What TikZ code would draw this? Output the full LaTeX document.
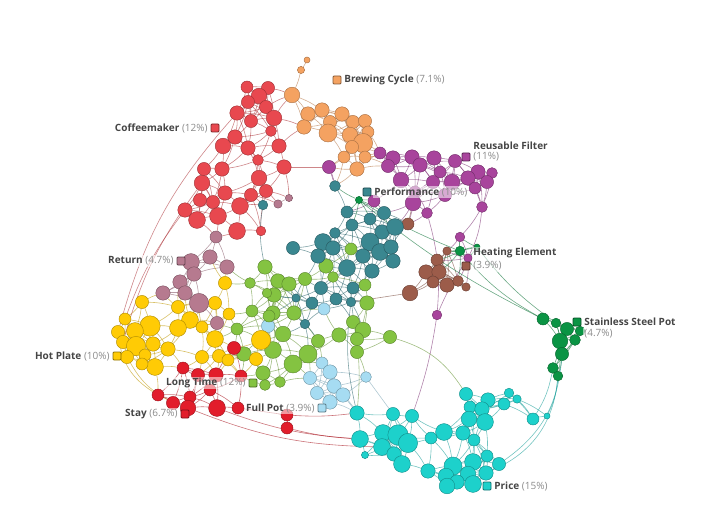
\documentclass[tikz,border=0pt]{standalone}
\usepackage{fontspec}
\setmainfont{Open Sans}
\usetikzlibrary{positioning}

\definecolor{cmC}{HTML}{E8484F}
\definecolor{bcC}{HTML}{F4A261}
\definecolor{rfC}{HTML}{A8449C}
\definecolor{pfC}{HTML}{3A8790}
\definecolor{heC}{HTML}{9C5C4A}
\definecolor{ssC}{HTML}{0A9444}
\definecolor{prC}{HTML}{1DD1CB}
\definecolor{fpC}{HTML}{A6DCF2}
\definecolor{ltC}{HTML}{84C341}
\definecolor{stC}{HTML}{E21D2B}
\definecolor{hpC}{HTML}{FFCB05}
\definecolor{rtC}{HTML}{B67A8F}
\definecolor{namegray}{HTML}{454545}
\definecolor{pctgray}{HTML}{8C8C8C}

\pgfdeclarelayer{background}
\pgfsetlayers{background,main}

\tikzset{
  dot/.style={circle, inner sep=0pt, line width=0.35pt, fill=#1, draw=#1!70!black},
  link/.style={draw=#1!75!black, line width=0.45pt, draw opacity=0.6},
  tagbox/.style={rectangle, rounded corners=0.8pt, inner sep=0pt, minimum size=6pt,
    fill=#1, draw=#1!55!black, line width=0.7pt},
  lbl/.style={inner sep=1pt, font=\fontsize{7.5}{9}\selectfont, text=namegray,
    fill=white, fill opacity=0.55, text opacity=1},
}
\newcommand\nm[1]{\textbf{#1}}
\newcommand\pct[1]{\textcolor{pctgray}{(#1\%)}}

% x/y/diameter, in pixels of the plot
\newcommand\listCM{247/87/10, 268/88/11, 259/96/13, 248/102/11, 266/107/11, 237/113/12,
  251/121/11, 274/118/13, 271/131/9, 235/137/12, 223/146/13, 248/148/12, 279/146/12,
  258/160/9, 284/167/12, 204/169/11, 222/169/12, 259/178/13, 202/183/13, 225/193/12,
  266/191/11, 200/200/11, 213/202/11, 251/195/11, 240/206/14, 185/210/12, 197/220/14,
  218/216/14, 237/231/14, 261/231/8}
\newcommand\listBC{307/60/5, 301/70/6, 292/95/13, 308/114/12, 322/110/12, 342/114/12,
  330/122/11, 353/122/11, 365/121/11, 304/127/12, 328/133/15, 350/135/13, 368/132/10,
  363/143/16, 352/147/11, 344/157/10, 365/157/10, 357/169/12}
\newcommand\listRF{329/167/11, 380/153/10, 393/158/12, 412/157/12, 420/165/12, 434/158/12,
  455/161/11, 388/166/11, 440/172/10, 478/172/12, 492/173/9, 468/178/12, 401/180/13,
  433/182/11, 452/182/13, 487/182/11, 475/188/10, 415/192/10, 445/195/11, 374/201/10,
  413/203/13, 427/213/9, 482/207/9, 460/237/8, 468/258/7, 437/315/8}
\newcommand\listPF{335/186/9, 263/205/8, 347/212/10, 370/219/10, 384/213/11, 352/225/10,
  335/233/9, 382/232/12, 395/227/14, 323/242/14, 333/248/12, 370/242/15, 293/248/11,
  318/256/12, 363/256/12, 380/252/14, 391/247/12, 393/261/12, 347/268/14, 372/271/12,
  321/288/11, 336/299/10, 351/302/8, 312/303/10, 296/298/7, 305/324/8, 353/288/10}
\newcommand\listHE{408/224/10, 447/251/7, 437/260/10, 426/272/12, 439/272/12, 433/282/10,
  447/285/12, 458/281/9, 466/287/7, 410/293/13}
\newcommand\listSS{359/200/6, 460/251/8, 477/247/5, 543/319/10, 556/323/8, 567/329/11,
  580/331/8, 560/341/13, 575/340/9, 562/354/11, 553/368/9, 558/376/8}
\newcommand\listPR{466/394/11, 488/400/12, 509/393/8, 517/399/7, 504/404/10, 470/407/10,
  482/409/12, 469/419/13, 485/422/14, 444/432/14, 463/433/12, 474/440/10, 431/438/10,
  412/416/11, 393/414/11, 357/413/12, 360/439/14, 383/433/14, 398/435/17, 408/443/16,
  382/447/14, 394/454/12, 365/455/6, 402/464/14, 428/471/12, 453/466/15, 473/462/14,
  487/456/10, 499/464/11, 486/473/12, 468/474/13, 446/476/13, 457/482/12, 473/484/14,
  447/486/13, 533/419/10, 547/416/5}
\newcommand\listFP{324/309/10, 268/326/11, 322/363/10, 330/372/12, 310/378/11, 366/377/9,
  334/386/12, 317/393/11, 343/395/12, 330/402/12}
\newcommand\listLT{351/249/10, 326/266/12, 333/277/9, 265/267/12, 250/283/9, 278/281/12,
  289/284/12, 305/279/11, 365/285/10, 274/295/12, 367/303/12, 252/311/10, 273/313/12,
  294/313/12, 353/322/11, 363/330/13, 390/337/11, 237/329/10, 283/334/13, 318/341/11,
  339/335/12, 357/339/11, 244/354/12, 273/350/14, 308/354/15, 357/352/11, 293/364/15,
  263/373/12, 280/382/9, 267/293/8, 269/316/10, 265/385/9}
\newcommand\listHP{225/283/11, 142/302/11, 178/307/11, 190/320/14, 215/303/11, 229/314/10,
  125/319/10, 150/326/17, 135/331/14, 118/332/11, 178/328/14, 202/327/10, 215/339/14,
  123/342/11, 136/346/16, 153/344/12, 168/349/12, 127/357/11, 145/355/10, 155/367/14,
  142/364/10, 202/357/11, 219/356/11, 228/360/10, 256/359/11, 261/340/16}
\newcommand\listST{183/368/10, 198/375/11, 216/375/12, 234/348/11, 241/376/10, 210/390/10,
  158/395/10, 173/403/11, 190/397/10, 188/408/13, 217/408/14, 238/408/10, 287/415/10,
  287/428/10}
\newcommand\listRT{216/237/10, 210/257/12, 191/262/14, 194/274/12, 227/267/12, 180/282/12,
  163/293/12, 185/293/12, 199/303/16, 217/323/11, 278/204/7, 289/198/6}

\newcommand\putcluster[3]{%
  \foreach \x/\y/\d [count=\i] in #3
    \node[dot=#2, minimum size=\d*0.9pt] (#1\i) at (\x,\y) {};}
\newcommand\meshcluster[3]{%
  \foreach \xa/\ya/\da [count=\i] in #2 {
    \foreach \xb/\yb/\db [count=\j] in #2 {
      \ifnum\j>\i
        \ifnum\numexpr(\xb-\xa)*(\xb-\xa)+(\yb-\ya)*(\yb-\ya)\relax<1400
          \draw[link=#3] (#1\i) to[bend left=6] (#1\j);
        \fi
      \fi}}}
\newcommand\meshpair[5]{%
  \foreach \xa/\ya/\da [count=\i] in #2 {
    \foreach \xb/\yb/\db [count=\j] in #4 {
      \ifnum\numexpr(\xb-\xa)*(\xb-\xa)+(\yb-\ya)*(\yb-\ya)\relax<1000
        \draw[link=#5] (#1\i) to[bend left=6] (#3\j);
      \fi}}}

\begin{document}
\begin{tikzpicture}[x=0.75pt, y=-0.75pt]
\useasboundingbox (0,0) rectangle (706,527);

% clusters
\putcluster{pr}{prC}{\listPR}
\putcluster{ss}{ssC}{\listSS}
\putcluster{fp}{fpC}{\listFP}
\putcluster{lt}{ltC}{\listLT}
\putcluster{st}{stC}{\listST}
\putcluster{hp}{hpC}{\listHP}
\putcluster{rt}{rtC}{\listRT}
\putcluster{he}{heC}{\listHE}
\putcluster{pf}{pfC}{\listPF}
\putcluster{rf}{rfC}{\listRF}
\putcluster{bc}{bcC}{\listBC}
\putcluster{cm}{cmC}{\listCM}

\begin{pgfonlayer}{background}
% links inside clusters
\meshcluster{cm}{\listCM}{cmC}
\meshcluster{bc}{\listBC}{bcC}
\meshcluster{rf}{\listRF}{rfC}
\meshcluster{pf}{\listPF}{pfC}
\meshcluster{he}{\listHE}{heC}
\meshcluster{ss}{\listSS}{ssC}
\meshcluster{pr}{\listPR}{prC}
\meshcluster{fp}{\listFP}{fpC}
\meshcluster{lt}{\listLT}{ltC}
\meshcluster{hp}{\listHP}{hpC}
\meshcluster{st}{\listST}{stC}
\meshcluster{rt}{\listRT}{rtC}
% links between neighbouring clusters
\meshpair{cm}{\listCM}{bc}{\listBC}{cmC}
\meshpair{cm}{\listCM}{rt}{\listRT}{cmC}
\meshpair{cm}{\listCM}{pf}{\listPF}{cmC}
\meshpair{bc}{\listBC}{rf}{\listRF}{bcC}
\meshpair{bc}{\listBC}{pf}{\listPF}{bcC}
\meshpair{rf}{\listRF}{pf}{\listPF}{rfC}
\meshpair{rf}{\listRF}{he}{\listHE}{rfC}
\meshpair{pf}{\listPF}{he}{\listHE}{pfC}
\meshpair{pf}{\listPF}{lt}{\listLT}{pfC}
\meshpair{pf}{\listPF}{fp}{\listFP}{pfC}
\meshpair{lt}{\listLT}{hp}{\listHP}{ltC}
\meshpair{lt}{\listLT}{fp}{\listFP}{ltC}
\meshpair{lt}{\listLT}{st}{\listST}{ltC}
\meshpair{lt}{\listLT}{rt}{\listRT}{ltC}
\meshpair{lt}{\listLT}{he}{\listHE}{ltC}
\meshpair{hp}{\listHP}{st}{\listST}{hpC}
\meshpair{hp}{\listHP}{rt}{\listRT}{hpC}
\meshpair{fp}{\listFP}{st}{\listST}{fpC}
\meshpair{fp}{\listFP}{pr}{\listPR}{fpC}
\meshpair{ss}{\listSS}{rf}{\listRF}{ssC}
\meshpair{ss}{\listSS}{pf}{\listPF}{ssC}
\meshpair{ss}{\listSS}{he}{\listHE}{ssC}
% long links
\draw[link=ssC] (ss1) to[bend right=5] (ss2);
\draw[link=ssC] (ss1) to[bend right=6] (ss4);
\draw[link=ssC] (ss2) to[bend right=10] (ss4);
\draw[link=ssC] (ss3) to[bend right=8] (ss5);
\draw[link=prC] (pr36) to[bend right=10] (ss11);
\draw[link=prC] (pr29) to[bend right=25] (ss10);
\draw[link=prC] (pr30) to[bend right=30] (ss12);
\draw[link=prC] (pr37) to[bend right=10] (ss12);
\draw[link=rfC] (rf23) to[bend left=10] (rf25);
\draw[link=rfC] (rf25) to[bend right=5] (rf26);
\draw[link=rfC] (rf22) to[bend left=10] (rf26);
\draw[link=rfC] (rf26) to[bend left=5] (pr14);
\draw[link=ltC] (lt17) to[bend left=20] (pr1);
\draw[link=ltC] (lt22) to[bend left=5] (pr16);
\draw[link=fpC] (fp6) to (pr15);
\draw[link=fpC] (fp9) to (pr16);
\draw[link=pfC] (pf23) to[bend right=10] (pr16);
\draw[link=stC] (st12) to (st13);
\draw[link=stC] (st13) to[bend right=5] (pr16);
\draw[link=stC] (st14) to[bend right=5] (pr17);
\draw[link=stC] (st11) to[bend right=8] (pr17);
\draw[link=stC] (st10) to[bend right=10] (pr21);
\draw[link=cmC] (cm6) to[bend right=13] (hp10);
\draw[link=cmC] (cm26) to[bend right=8] (hp7);
\draw[link=cmC] (cm19) to[bend right=10] (hp14);
\draw[link=hpC] (hp10) to[bend right=25] (st7);
\draw[link=hpC] (hp18) to[bend right=15] (st8);
\draw[link=cmC] (cm15) to (rf1);
\draw[link=rfC] (rf1) to (pf1);
\draw[link=pfC] (pf2) to[bend right=10] (lt4);
\draw[link=pfC] (pf9) to[bend left=10] (he1);
\draw[link=heC] (he10) to (pf23);
\draw[link=heC] (he1) to (rf21);
\end{pgfonlayer}

% labels
\node[tagbox=bcC] (bcKey) at (337,80) {};
\node[lbl, right=1pt of bcKey] (bcLbl) {\nm{Brewing Cycle} \pct{7.1}};
\node[tagbox=cmC] (cmKey) at (215,128) {};
\node[lbl, left=1pt of cmKey] (cmLbl) {\nm{Coffeemaker} \pct{12}};
\node[tagbox=rfC] (rfKey) at (466,157) {};
\node[lbl, right=1pt of rfKey] (rfPct) {\pct{11}};
\node[lbl, anchor=south west] (rfLbl) at (rfPct.north west) {\nm{Reusable Filter}};
\node[tagbox=pfC] (pfKey) at (367,192) {};
\node[lbl, right=1pt of pfKey] (pfLbl) {\nm{Performance} \pct{10}};
\node[tagbox=heC] (heKey) at (466,266) {};
\node[lbl, right=1pt of heKey] (hePct) {\pct{3.9}};
\node[lbl, anchor=south west] (heLbl) at (hePct.north west) {\nm{Heating Element}};
\node[tagbox=ssC] (ssKey) at (577,322) {};
\node[lbl, right=1pt of ssKey] (ssLbl) {\nm{Stainless Steel Pot}};
\node[lbl, anchor=north west] (ssPct) at (ssLbl.south west) {\pct{4.7}};
\node[tagbox=prC] (prKey) at (487,486) {};
\node[lbl, right=1pt of prKey] (prLbl) {\nm{Price} \pct{15}};
\node[tagbox=fpC] (fpKey) at (322,408) {};
\node[lbl, left=1pt of fpKey] (fpLbl) {\nm{Full Pot} \pct{3.9}};
\node[tagbox=ltC] (ltKey) at (253,383) {};
\node[lbl, left=1pt of ltKey] (ltLbl) {\nm{Long Time} \pct{12}};
\node[tagbox=stC] (stKey) at (185,414) {};
\node[lbl, left=1pt of stKey] (stLbl) {\nm{Stay} \pct{6.7}};
\node[tagbox=hpC] (hpKey) at (117,356) {};
\node[lbl, left=1pt of hpKey] (hpLbl) {\nm{Hot Plate} \pct{10}};
\node[tagbox=rtC] (rtKey) at (181,261) {};
\node[lbl, left=1pt of rtKey] (rtLbl) {\nm{Return} \pct{4.7}};
\end{tikzpicture}
\end{document}
